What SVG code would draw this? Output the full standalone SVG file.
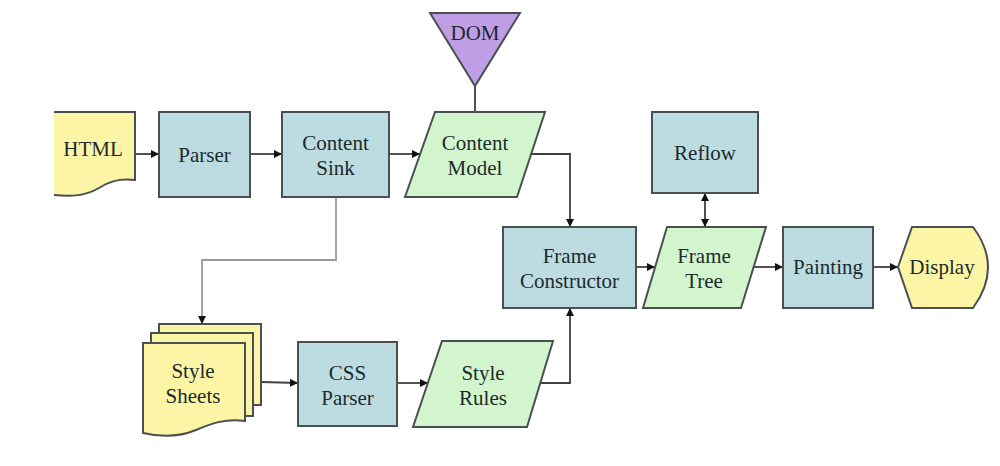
<svg xmlns="http://www.w3.org/2000/svg" width="1000" height="466" viewBox="0 0 1000 466">
<style>
.blue{fill:#bcdce2;stroke:#4a5052;stroke-width:2}
.green{fill:#d3f5cd;stroke:#4a5052;stroke-width:2}
.yellow{fill:#fdf5a6;stroke:#4a5052;stroke-width:2}
.purple{fill:#c09ee6;stroke:#4a5052;stroke-width:2}
.t{font-family:"Liberation Serif","DejaVu Serif","Times New Roman",serif;font-size:21px;fill:#1c2a2a;text-anchor:middle}
.c{fill:none;stroke:#404040;stroke-width:1.8}
.g{fill:none;stroke:#9a9a9a;stroke-width:1.8}
</style>
<defs>
<marker id="ah" viewBox="0 0 10 10" refX="10" refY="5" markerWidth="8" markerHeight="8" markerUnits="userSpaceOnUse" orient="auto-start-reverse">
<path d="M0,0 L10,5 L0,10 Z" fill="#111"/>
</marker>
<clipPath id="clipHtml"><rect x="54" y="0" width="200" height="466"/></clipPath>
</defs>
<rect width="1000" height="466" fill="#ffffff"/>

<g id="connectors">
<line class="c" x1="135" y1="154" x2="159" y2="154" marker-end="url(#ah)"/>
<line class="c" x1="250" y1="154" x2="282" y2="154" marker-end="url(#ah)"/>
<line class="c" x1="389" y1="154" x2="420" y2="154" marker-end="url(#ah)"/>
<line class="c" x1="475" y1="86" x2="475" y2="112"/>
<polyline class="c" points="530,154 570,154 570,227" marker-end="url(#ah)"/>
<polyline class="g" points="336,197 336,260 202,260 202,324" marker-end="url(#ah)"/>
<line class="c" x1="261" y1="382" x2="298" y2="383" marker-end="url(#ah)"/>
<line class="c" x1="397" y1="383" x2="428" y2="383" marker-end="url(#ah)"/>
<polyline class="c" points="539,383 570,383 570,308" marker-end="url(#ah)"/>
<line class="c" x1="636" y1="267" x2="655" y2="267" marker-end="url(#ah)"/>
<line class="c" x1="705" y1="193" x2="705" y2="227" marker-start="url(#ah)" marker-end="url(#ah)"/>
<line class="c" x1="754" y1="267" x2="783" y2="267" marker-end="url(#ah)"/>
<line class="c" x1="873" y1="267" x2="898" y2="267" marker-end="url(#ah)"/>
</g>

<g id="html">
<path class="yellow" clip-path="url(#clipHtml)" d="M30,112 H135 V180 C118,178 108,182 99,188 C84,197 68,198 30,192 Z"/>
<text class="t" x="93" y="156">HTML</text>
</g>

<g id="parser">
<rect class="blue" x="159" y="112" width="91" height="85"/>
<text class="t" x="204.5" y="162">Parser</text>
</g>

<g id="content-sink">
<rect class="blue" x="282" y="112" width="107" height="85"/>
<text class="t" x="335.5" y="150">Content</text>
<text class="t" x="335.5" y="175">Sink</text>
</g>

<g id="dom">
<polygon class="purple" points="430,13 520,13 475,86"/>
<text class="t" x="475" y="40">DOM</text>
</g>

<g id="content-model">
<polygon class="green" points="435,112 545,112 517,197 405,197"/>
<text class="t" x="475" y="150">Content</text>
<text class="t" x="475" y="175">Model</text>
</g>

<g id="reflow">
<rect class="blue" x="652" y="112" width="106" height="81"/>
<text class="t" x="705" y="160">Reflow</text>
</g>

<g id="frame-constructor">
<rect class="blue" x="503" y="227" width="133" height="81"/>
<text class="t" x="569.5" y="263">Frame</text>
<text class="t" x="569.5" y="288">Constructor</text>
</g>

<g id="frame-tree">
<polygon class="green" points="667,227 766,227 741,308 643,308"/>
<text class="t" x="704" y="263">Frame</text>
<text class="t" x="704" y="288">Tree</text>
</g>

<g id="painting">
<rect class="blue" x="783" y="227" width="90" height="81"/>
<text class="t" x="828" y="274">Painting</text>
</g>

<g id="display">
<path class="yellow" d="M898,267 L912,227 H973 Q1003,267 973,308 H912 Z"/>
<text class="t" x="942" y="274">Display</text>
</g>

<g id="style-sheets">
<path class="yellow" d="M159,324 H261 V405 H159 Z"/>
<path class="yellow" d="M151,333 H253 V416 H151 Z"/>
<path class="yellow" d="M143,343 H245 V421 C225,418 210,424 196,430 C179,437 160,437 143,433 Z"/>
<text class="t" x="193" y="378">Style</text>
<text class="t" x="193" y="403">Sheets</text>
</g>

<g id="css-parser">
<rect class="blue" x="298" y="342" width="99" height="84"/>
<text class="t" x="347.5" y="380">CSS</text>
<text class="t" x="347.5" y="405">Parser</text>
</g>

<g id="style-rules">
<polygon class="green" points="442,341 553,341 527,427 413,427"/>
<text class="t" x="483" y="380">Style</text>
<text class="t" x="483" y="405">Rules</text>
</g>
</svg>
